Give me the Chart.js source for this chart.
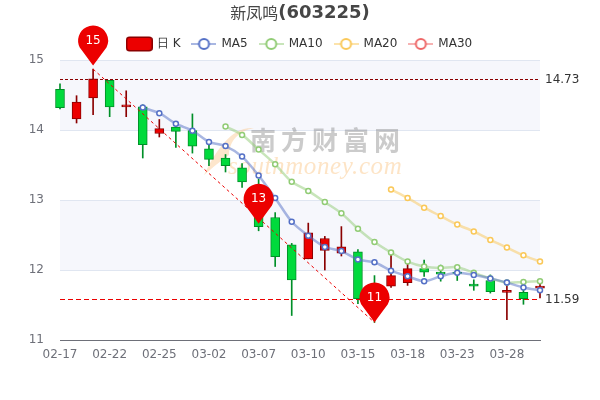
<!DOCTYPE html>
<html>
<head>
<meta charset="utf-8">
<style>
  html, body { margin: 0; padding: 0; background: #fff; }
  canvas { display: block; }
</style>
<script src="https://cdn.jsdelivr.net/npm/chart.js@4/dist/chart.umd.min.js"></script>
</head>
<body>
<canvas id="chart" width="600" height="400"></canvas>
<script>
const dates = ['02-17','02-18','02-21','02-22','02-23','02-24','02-25','02-28','03-01','03-02',
  '03-03','03-04','03-07','03-08','03-09','03-10','03-11','03-14','03-15','03-16',
  '03-17','03-18','03-21','03-22','03-23','03-24','03-25','03-28','03-29','03-30'];

const open = [14.58,14.16,14.46,14.71,14.33,14.33,13.95,14.04,13.99,13.73,
  13.60,13.46,12.92,12.75,12.36,12.16,12.28,12.24,12.26,11.78,
  11.77,11.82,12.02,11.97,11.97,11.80,11.85,11.68,11.68,11.74];
const close = [14.32,14.40,14.73,14.33,14.36,13.79,14.02,13.98,13.77,13.58,
  13.49,13.26,12.62,12.19,11.86,12.53,12.45,12.33,11.59,11.42,
  11.92,12.02,11.97,11.94,11.95,11.77,11.69,11.71,11.59,11.77];
const low = [14.30,14.10,14.22,14.19,14.19,13.60,13.90,13.75,13.67,13.49,
  13.40,13.18,12.56,12.05,11.35,12.16,12.00,12.20,11.52,11.25,
  11.75,11.78,11.91,11.84,11.85,11.71,11.67,11.29,11.51,11.60];
const high = [14.66,14.49,14.87,14.71,14.56,14.36,14.15,14.08,14.23,13.83,
  13.65,13.52,13.30,12.82,12.38,12.67,12.48,12.62,12.29,11.92,
  12.21,12.09,12.14,12.07,11.99,11.86,11.93,11.82,11.75,11.82];

const ma5 = [null,null,null,null,null,14.32,14.24,14.09,13.99,13.83,
  13.77,13.62,13.35,13.03,12.69,12.49,12.33,12.27,12.15,12.11,
  11.99,11.91,11.84,11.91,11.96,11.93,11.88,11.82,11.75,11.71];
const ma10 = [null,null,null,null,null,null,null,null,null,null,
  14.05,13.93,13.72,13.51,13.26,13.13,12.97,12.81,12.59,12.40,
  12.25,12.12,12.05,12.03,12.04,11.96,11.88,11.82,11.83,11.84];
const ma20 = [null,null,null,null,null,null,null,null,null,null,
  null,null,null,null,null,null,null,null,null,null,
  13.15,13.03,12.89,12.77,12.65,12.55,12.43,12.32,12.21,12.12];
const ma30 = [];

const yBands = [[14, 15], [12, 13]];
const hLines = [14.73, 11.59];
const pinIdx = [2, 12, 19];
const pinVal = [14.92, 12.66, 11.25];
const pinText = ['15', '13', '11'];
const trendFrom = [2, 14.87];
const trendTo = [19, 11.25];

const UP = '#ec0000', UP_DARK = '#8a0000', DOWN = '#00da3c', DOWN_DARK = '#008f28';
const FONT = '"DejaVu Sans", sans-serif';

const isUp = (i) => close[i] >= open[i];

// legend icons: a faint line with an open circle, the way the original shows them
function lineIcon(colour, faint) {
  const c = document.createElement('canvas');
  c.width = 25; c.height = 14;
  const g = c.getContext('2d');
  g.strokeStyle = faint; g.lineWidth = 2;
  g.beginPath(); g.moveTo(0, 7); g.lineTo(25, 7); g.stroke();
  g.fillStyle = '#fff'; g.strokeStyle = colour; g.lineWidth = 2;
  g.beginPath(); g.arc(12.5, 7, 5, 0, Math.PI * 2); g.fill(); g.stroke();
  return c;
}

function candleIcon() {
  const c = document.createElement('canvas');
  c.width = 27; c.height = 16;
  const g = c.getContext('2d');
  g.fillStyle = UP; g.strokeStyle = UP_DARK; g.lineWidth = 1.5;
  g.beginPath(); g.roundRect(0.75, 1.25, 25.5, 13.5, 3); g.fill(); g.stroke();
  return c;
}

function maSet(label, data, colour, faint) {
  return {
    type: 'line', label, data, order: 1,
    borderColor: faint, borderWidth: 2.5, tension: 0.3,
    pointRadius: 2.5, pointBorderWidth: 1.5,
    pointBackgroundColor: '#fff', pointBorderColor: colour,
    clip: false, icon: lineIcon(colour, faint),
  };
}

const backdrop = {
  id: 'backdrop',
  beforeDatasetsDraw(chart) {
    const { ctx, scales: { x, y } } = chart;
    const l = x.left, r = x.right;
    ctx.save();
    ctx.fillStyle = 'rgba(200,210,240,0.17)';
    yBands.forEach(([a, b]) => {
      ctx.fillRect(l, y.getPixelForValue(b), r - l, y.getPixelForValue(a) - y.getPixelForValue(b));
    });
    ctx.strokeStyle = '#e0e6f1'; ctx.lineWidth = 1;
    [12, 13, 14, 15].forEach((v) => {
      const p = Math.round(y.getPixelForValue(v)) + 0.5;
      ctx.beginPath(); ctx.moveTo(l, p); ctx.lineTo(r, p); ctx.stroke();
    });

    // southmoney watermark
    ctx.fillStyle = 'rgba(250,190,120,0.38)';
    ctx.beginPath();
    ctx.moveTo(254, 128);
    ctx.bezierCurveTo(232, 126, 216, 150, 204, 175);
    ctx.bezierCurveTo(216, 165, 224, 158, 229, 155);
    ctx.bezierCurveTo(229, 142, 238, 131, 254, 128);
    ctx.fill();
    ctx.textBaseline = 'alphabetic'; ctx.textAlign = 'left';
    ctx.fillStyle = 'rgba(130,130,130,0.42)';
    ctx.font = 'bold 26px "Noto Sans CJK SC"';
    ctx.letterSpacing = '5px';
    ctx.fillText('南方财富网', 250, 150);
    ctx.letterSpacing = '0px';
    ctx.fillStyle = 'rgba(250,190,120,0.42)';
    ctx.font = 'italic 25px "Liberation Serif"';
    ctx.letterSpacing = '0.6px';
    ctx.fillText('southmoney.com', 228, 174);
    ctx.letterSpacing = '0px';
    ctx.restore();
  },
};

const marks = {
  id: 'marks',
  afterDatasetsDraw(chart) {
    const { ctx, scales: { x, y } } = chart;
    ctx.save();
    // max / min reference lines
    hLines.forEach((v, i) => {
      const p = Math.round(y.getPixelForValue(v)) + 0.5;
      ctx.strokeStyle = i === 0 ? '#8a0000' : '#ec0000';
      ctx.lineWidth = 1;
      ctx.setLineDash(i === 0 ? [3, 2] : [5, 3]);
      ctx.beginPath(); ctx.moveTo(x.left, p); ctx.lineTo(x.right, p); ctx.stroke();
      ctx.setLineDash([]);
      ctx.fillStyle = '#333'; ctx.font = '12px ' + FONT;
      ctx.textAlign = 'left'; ctx.textBaseline = 'middle';
      ctx.fillText(v.toFixed(2), x.right + 5, p);
    });
    // falling trend line
    ctx.strokeStyle = '#ec0000'; ctx.lineWidth = 1; ctx.setLineDash([3, 3]);
    ctx.beginPath();
    ctx.moveTo(x.getPixelForValue(trendFrom[0]), y.getPixelForValue(trendFrom[1]));
    ctx.lineTo(x.getPixelForValue(trendTo[0]), y.getPixelForValue(trendTo[1]));
    ctx.stroke();
    ctx.setLineDash([]);
    // pins
    pinIdx.forEach((idx, i) => {
      const px = x.getPixelForValue(idx), tip = y.getPixelForValue(pinVal[i]);
      const cy = tip - 25, rad = 15;
      ctx.fillStyle = UP;
      ctx.beginPath();
      ctx.arc(px, cy, rad, Math.PI * 0.85, Math.PI * 0.15);
      ctx.quadraticCurveTo(px + 5, cy + 18, px, tip);
      ctx.quadraticCurveTo(px - 5, cy + 18, px - rad * Math.cos(Math.PI * 0.15), cy + rad * Math.sin(Math.PI * 0.15));
      ctx.fill();
      ctx.fillStyle = '#fff'; ctx.font = '12px ' + FONT;
      ctx.textAlign = 'center'; ctx.textBaseline = 'middle';
      ctx.fillText(pinText[i], px, cy);
    });
    ctx.restore();
  },
  afterDraw(chart) {
    // title has a thin CJK part and a bold code part
    const { ctx } = chart;
    ctx.save();
    ctx.textBaseline = 'middle'; ctx.textAlign = 'left';
    ctx.fillStyle = '#464646';
    const cjk = '新凤鸣', code = '(603225)';
    ctx.font = '16px "Noto Sans CJK SC"';
    const w1 = ctx.measureText(cjk).width;
    ctx.font = 'bold 18px ' + FONT;
    const w2 = ctx.measureText(code).width;
    const left = 300 - (w1 + w2) / 2;
    ctx.font = '16px "Noto Sans CJK SC"';
    ctx.fillText(cjk, left, 13);
    ctx.font = 'bold 18px ' + FONT;
    ctx.fillText(code, left + w1, 13);
    ctx.restore();
  },
};

new Chart(document.getElementById('chart'), {
  data: {
    labels: dates,
    datasets: [
      maSet('MA5', ma5, '#5470c6', 'rgba(84,112,198,0.5)'),
      maSet('MA10', ma10, '#91cc75', 'rgba(145,204,117,0.5)'),
      maSet('MA20', ma20, '#fac858', 'rgba(250,200,88,0.5)'),
      maSet('MA30', ma30, '#ee6666', 'rgba(238,102,102,0.5)'),
      {
        type: 'bar', label: '日 K', order: 5, grouped: false, clip: false,
        data: open.map((v, i) => [v, close[i]]),
        barThickness: 9,
        backgroundColor: open.map((_, i) => isUp(i) ? UP : DOWN),
        borderColor: open.map((_, i) => isUp(i) ? UP_DARK : DOWN_DARK),
        borderWidth: 1, borderSkipped: false,
      },
      {
        type: 'bar', label: 'wick', order: 6, grouped: false, clip: false,
        data: low.map((v, i) => [v, high[i]]),
        barThickness: 1,
        backgroundColor: low.map((_, i) => isUp(i) ? UP_DARK : DOWN_DARK),
      },
    ],
  },
  options: {
    responsive: false,
    animation: false,
    layout: { padding: { top: 26, right: 0, left: 0, bottom: 0 } },
    plugins: {
      title: { display: false },
      tooltip: { enabled: false },
      legend: {
        position: 'top',
        labels: {
          usePointStyle: true,
          pointStyleWidth: 23,
          padding: 12,
          color: '#333',
          font: { family: FONT, size: 12 },
          generateLabels(chart) {
            const sets = chart.data.datasets;
            const order = [4, 0, 1, 2, 3];
            return order.map((i) => ({
              text: sets[i].label,
              datasetIndex: i,
              pointStyle: i === 4 ? candleIcon() : sets[i].icon,
              fontColor: '#333',
              hidden: false,
              lineWidth: 0,
            }));
          },
        },
      },
    },
    scales: {
      x: {
        type: 'category',
        offset: false,
        afterFit(s) { s.height = 60; },
        grid: { display: false, drawTicks: true, tickLength: 5, tickColor: '#6e7079' },
        border: { color: '#6e7079' },
        ticks: {
          autoSkip: false, maxRotation: 0, minRotation: 0,
          color: '#6e7079', font: { family: FONT, size: 12 }, padding: 3,
          callback(v, i) { return i % 3 === 0 ? dates[i] : null; },
        },
      },
      y: {
        min: 11, max: 15,
        afterFit(s) { s.width = 60; },
        grid: { display: false },
        border: { display: false },
        ticks: {
          stepSize: 1, color: '#6e7079', padding: 8,
          font: { family: FONT, size: 12 },
        },
      },
      // empty axis on the right keeps the plot symmetric so the legend centres on the page
      yRight: {
        position: 'right',
        min: 11, max: 15,
        afterFit(s) { s.width = 60; },
        grid: { display: false },
        border: { display: false },
        ticks: { display: false },
      },
    },
  },
  plugins: [backdrop, marks],
});
</script>
</body>
</html>
